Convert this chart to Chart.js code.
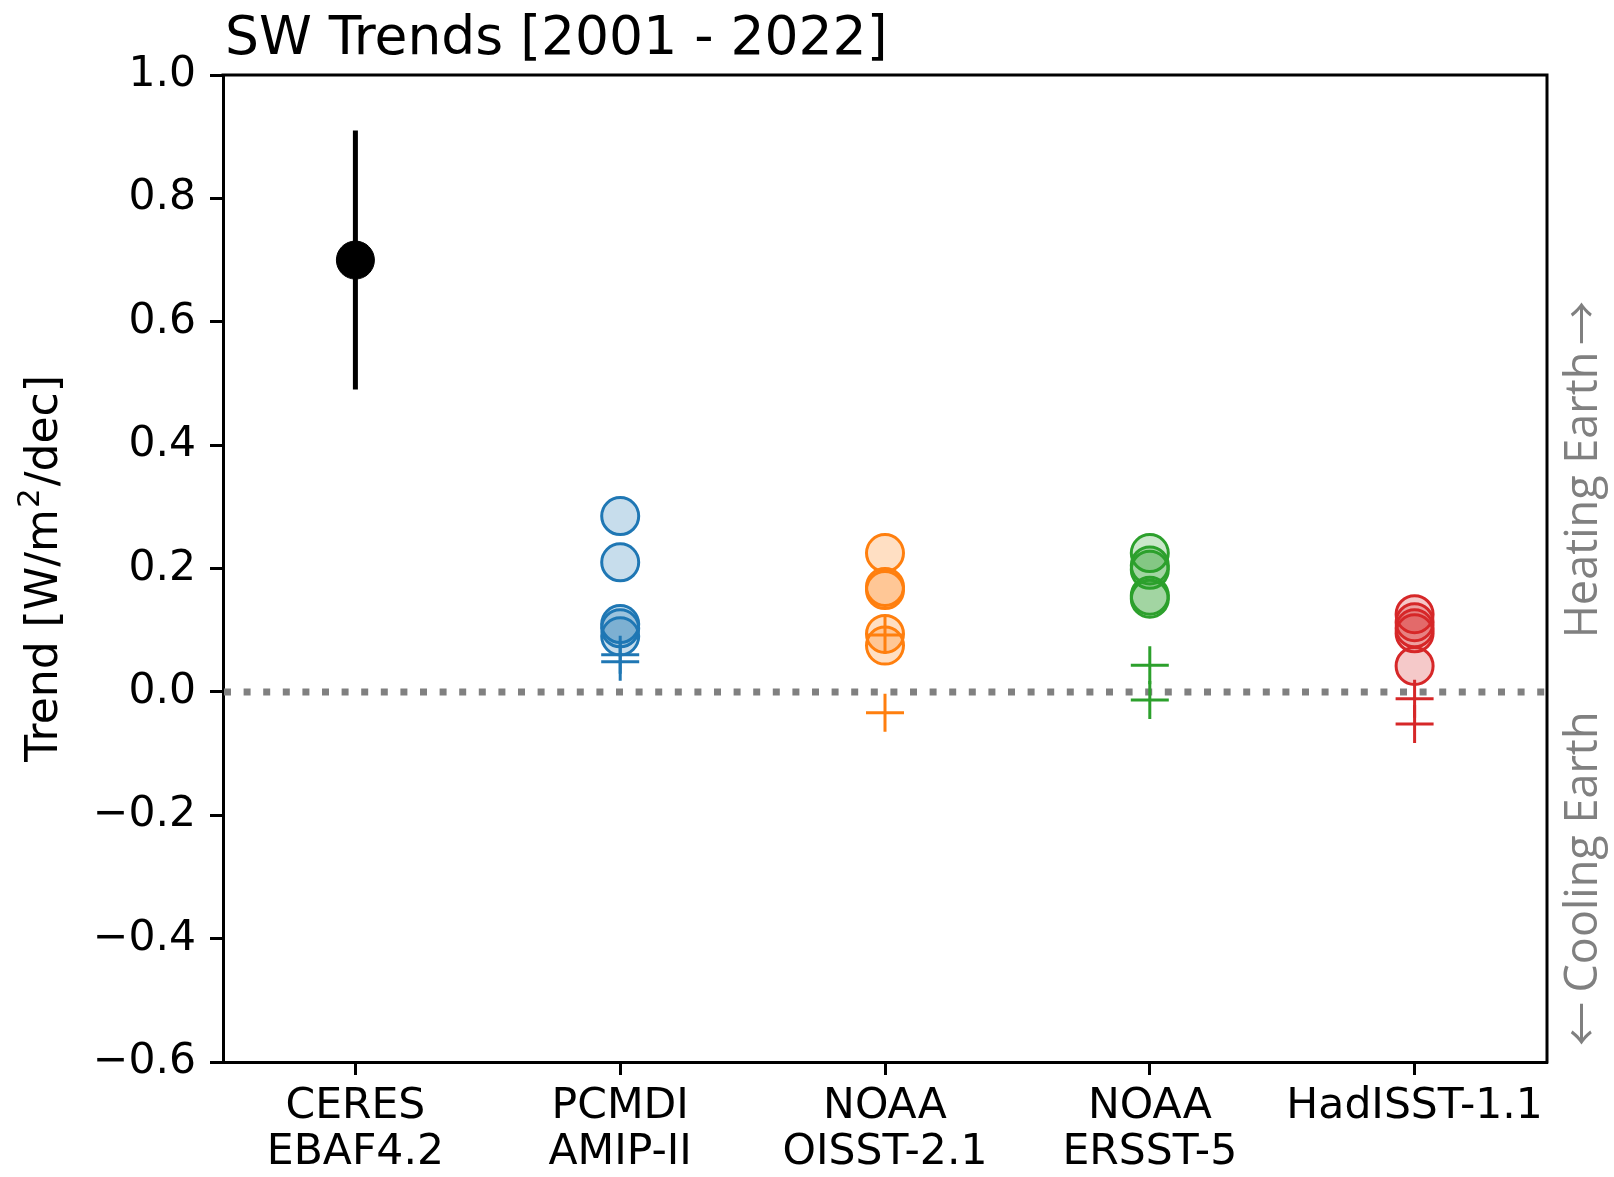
<!DOCTYPE html>
<html>
<head>
<meta charset="utf-8">
<script src="https://cdn.jsdelivr.net/npm/chart.js@4/dist/chart.umd.min.js"></script>
<style>
  html, body { margin: 0; padding: 0; background: #fff; }
  #wrap { width: 1614px; height: 1177px; position: relative; }
</style>
</head>
<body>
<div id="wrap"><canvas id="c" width="1614" height="1177"></canvas></div>
<script>
// Categories along the x axis (multi-line tick labels)
const categories = [['CERES', 'EBAF4.2'], ['PCMDI', 'AMIP-II'], ['NOAA', 'OISST-2.1'], ['NOAA', 'ERSST-5'], ['HadISST-1.1']];
const yTicks = [-0.6, -0.4, -0.2, 0.0, 0.2, 0.4, 0.6, 0.8, 1.0];

// Observed trend with its uncertainty range
const ceresTrend = [0.70];
const ceresRange = [0.49, 0.91];

// Simulated trends per SST forcing dataset: circles and plus markers
const amipCircles = [0.285, 0.21, 0.11, 0.103, 0.09];
const amipPlus = [0.060, 0.049];
const oisstCircles = [0.225, 0.17, 0.165, 0.094, 0.075];
const oisstPlus = [0.092, -0.034];
const ersstCircles = [0.225, 0.205, 0.198, 0.156, 0.151];
const ersstPlus = [0.043, -0.013];
const hadisstCircles = [0.126, 0.113, 0.103, 0.095, 0.042];
const hadisstPlus = [-0.011, -0.052];

const groups = [
  { idx: 1, circles: amipCircles, plus: amipPlus, color: '31,119,180' },
  { idx: 2, circles: oisstCircles, plus: oisstPlus, color: '255,127,14' },
  { idx: 3, circles: ersstCircles, plus: ersstPlus, color: '44,160,44' },
  { idx: 4, circles: hadisstCircles, plus: hadisstPlus, color: '214,39,40' }
];

const datasets = [];
datasets.push({
  data: ceresRange.map(v => ({ x: 0, y: v })),
  showLine: true,
  borderColor: '#000',
  borderWidth: 5,
  borderCapStyle: 'butt',
  pointRadius: 0,
  order: 2
});
datasets.push({
  data: ceresTrend.map(v => ({ x: 0, y: v })),
  pointStyle: 'circle',
  pointRadius: 19,
  backgroundColor: '#000',
  borderColor: '#000',
  borderWidth: 1,
  order: 1
});
groups.forEach(g => {
  datasets.push({
    data: g.circles.map(v => ({ x: g.idx, y: v })),
    pointStyle: 'circle',
    pointRadius: 18.5,
    backgroundColor: 'rgba(' + g.color + ',0.25)',
    borderColor: 'rgb(' + g.color + ')',
    borderWidth: 3,
    order: 4
  });
  datasets.push({
    data: g.plus.map(v => ({ x: g.idx, y: v })),
    pointStyle: 'cross',
    pointRadius: 19,
    borderColor: 'rgb(' + g.color + ')',
    borderWidth: 3,
    order: 3
  });
});

const tickFont = { family: 'DejaVu Sans', size: 42.5, lineHeight: 1.08 };

// draws a rotated (bottom-to-top) label centred at (x, cy)
function sideText(ctx, text, font, x, cy) {
  ctx.save();
  ctx.translate(x, cy);
  ctx.rotate(-Math.PI / 2);
  ctx.font = font;
  ctx.textAlign = 'center';
  ctx.textBaseline = 'alphabetic';
  ctx.fillText(text, 0, 0);
  ctx.restore();
}

const decorations = {
  id: 'decorations',
  beforeDatasetsDraw(chart) {
    const { ctx, chartArea: a, scales: { y } } = chart;
    const y0 = y.getPixelForValue(0);
    ctx.save();
    ctx.strokeStyle = '#808080';
    ctx.lineWidth = 7;
    ctx.setLineDash([7, 12.6]);
    ctx.beginPath();
    ctx.moveTo(a.left + 1, y0);
    ctx.lineTo(a.right, y0);
    ctx.stroke();
    ctx.restore();
  },
  afterDraw(chart) {
    const { ctx, chartArea: a } = chart;
    ctx.save();
    // top and right frame lines
    ctx.strokeStyle = '#000';
    ctx.lineWidth = 3;
    ctx.beginPath();
    ctx.moveTo(a.left - 1.5, a.top);
    ctx.lineTo(a.right, a.top);
    ctx.lineTo(a.right, a.bottom + 1.5);
    ctx.stroke();

    // title
    ctx.fillStyle = '#000';
    ctx.font = '53.5px "DejaVu Sans"';
    ctx.textAlign = 'left';
    ctx.textBaseline = 'alphabetic';
    ctx.fillText('SW Trends [2001 - 2022]', a.left + 2, 54);

    // y axis label with superscript exponent
    ctx.save();
    const cy = (a.top + a.bottom) / 2;
    ctx.translate(57, cy);
    ctx.rotate(-Math.PI / 2);
    ctx.textAlign = 'left';
    const partA = 'Trend [W/m', sup = '2', partB = '/dec]';
    ctx.font = '44px "DejaVu Sans"';
    const wA = ctx.measureText(partA).width;
    const wB = ctx.measureText(partB).width;
    ctx.font = '31px "DejaVu Sans"';
    const wS = ctx.measureText(sup).width + 3;
    let x0 = -(wA + wS + wB) / 2;
    ctx.font = '44px "DejaVu Sans"';
    ctx.fillText(partA, x0, 0);
    ctx.font = '31px "DejaVu Sans"';
    ctx.fillText(sup, x0 + wA + 1, -18);
    ctx.font = '44px "DejaVu Sans"';
    ctx.fillText(partB, x0 + wA + wS, 0);
    ctx.restore();

    // side annotations
    ctx.fillStyle = '#808080';
    const sideFont = '45px "Open Sans"';
    const arrowFont = '44px "Noto Sans CJK JP"';
    sideText(ctx, 'Heating Earth', sideFont, 1597, 495);
    sideText(ctx, '\u2192', arrowFont, 1598, 323);
    sideText(ctx, 'Cooling Earth', sideFont, 1597, 852);
    sideText(ctx, '\u2190', arrowFont, 1598, 1024);
    ctx.restore();
  }
};

new Chart(document.getElementById('c'), {
  type: 'scatter',
  data: { datasets },
  options: {
    responsive: false,
    animation: false,
    devicePixelRatio: 1,
    events: [],
    layout: { padding: { top: 75, right: 67, left: 0, bottom: 0 } },
    plugins: { legend: { display: false }, tooltip: { enabled: false }, title: { display: false } },
    scales: {
      x: {
        type: 'linear',
        min: -0.5,
        max: 4.5,
        afterBuildTicks: ax => { ax.ticks = categories.map((c, i) => ({ value: i })); },
        afterFit: s => { s.height = 115; },
        ticks: {
          callback: v => categories[v],
          font: tickFont,
          color: '#000',
          padding: 9,
          maxRotation: 0,
          autoSkip: false
        },
        grid: { drawOnChartArea: false, drawTicks: true, tickLength: 13, tickWidth: 3, tickColor: '#000' },
        border: { display: true, width: 3, color: '#000' }
      },
      y: {
        min: -0.6,
        max: 1.0,
        afterBuildTicks: ax => { ax.ticks = yTicks.map(v => ({ value: v })); },
        afterFit: s => { s.width = 223; },
        ticks: {
          callback: v => v.toFixed(1).replace('-', '\u2212'),
          font: tickFont,
          color: '#000',
          padding: 14,
          autoSkip: false
        },
        grid: { drawOnChartArea: false, drawTicks: true, tickLength: 13, tickWidth: 3, tickColor: '#000' },
        border: { display: true, width: 3, color: '#000' }
      }
    }
  },
  plugins: [decorations]
});
</script>
</body>
</html>
